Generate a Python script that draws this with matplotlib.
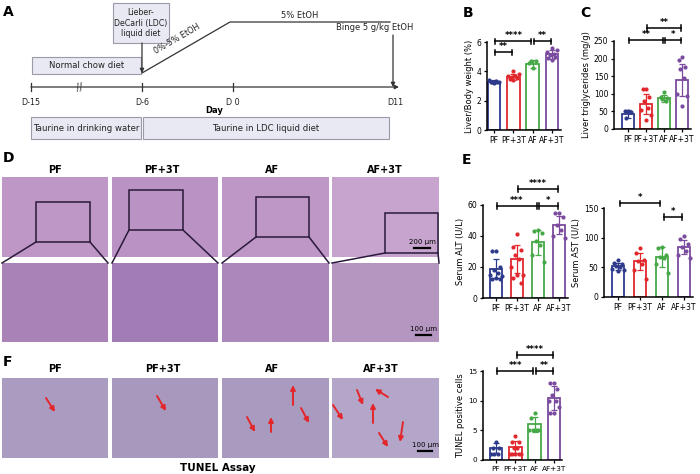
import numpy as np
import matplotlib.pyplot as plt
from matplotlib.patches import Rectangle

W, H = 700, 474

groups = ['PF', 'PF+3T', 'AF', 'AF+3T']
colors = ['#2e3a8c', '#e0282e', '#46a846', '#7a4b9e']

# B: liver / body weight (%)
lbw_mean = [3.3, 3.6, 4.5, 5.15]
lbw_sd = [0.1, 0.2, 0.25, 0.3]
lbw_pts = [[3.2, 3.25, 3.3, 3.3, 3.35, 3.4, 3.3, 3.25],
           [3.4, 3.5, 3.55, 3.6, 3.65, 3.7, 3.8, 4.0],
           [4.2, 4.6, 4.7, 4.7],
           [4.8, 4.9, 5.0, 5.1, 5.2, 5.3, 5.45, 5.6]]

# C: liver triglycerides (mg/g)
tg_mean = [42, 72, 88, 140]
tg_sd = [12, 28, 10, 45]
tg_pts = [[50, 52, 48, 30],
          [115, 115, 90, 80, 60, 55, 40, 25],
          [105, 92, 88, 85, 80],
          [205, 195, 175, 170, 145, 100, 95, 65]]

# E: serum ALT / AST (U/L)
alt_mean = [19, 25, 36, 47]
alt_sd = [6, 9, 8, 6]
alt_pts = [[30, 30, 20, 18, 16, 15, 14, 13, 12, 12],
           [41, 33, 31, 28, 25, 20, 15, 15, 13, 10],
           [44, 43, 42, 37, 34, 28, 23],
           [55, 55, 52, 47, 44, 40, 39]]

ast_mean = [52, 60, 68, 84]
ast_sd = [6, 15, 17, 12]
ast_pts = [[62, 58, 55, 53, 50, 48, 45, 43],
           [82, 75, 62, 60, 55, 45, 30],
           [85, 82, 70, 68, 65, 55, 40],
           [103, 97, 90, 85, 78, 70, 65]]

# F: TUNEL positive cells
tun_mean = [2.0, 2.2, 6.0, 10.5]
tun_sd = [0.8, 1.0, 1.3, 2.0]
tun_pts = [[3, 2, 2, 1, 1, 1],
           [4, 3, 3, 2, 2, 1, 1, 1, 1, 1],
           [8, 7, 5, 5, 5, 5],
           [13, 13, 12, 11, 10, 10, 9, 8, 8]]

# significance brackets: (i, j, y, stars)
lbw_sig = [(0, 1, 5.3, '**'), (0, 2, 6.05, '****'), (2, 3, 6.05, '**')]
tg_sig = [(0, 2, 252, '**'), (1, 3, 287, '**'), (2, 3, 252, '*')]
alt_sig = [(0, 2, 59.5, '***'), (1, 3, 70.5, '****'), (2, 3, 59.5, '*')]
ast_sig = [(0, 2, 158, '*'), (2, 3, 135, '*')]
tun_sig = [(0, 2, 15, '***'), (1, 3, 17.7, '****'), (2, 3, 15, '**')]

fig = plt.figure(figsize=(7, 4.74), dpi=100)
ov = fig.add_axes([0, 0, 1, 1])
ov.set_xlim(0, W)
ov.set_ylim(H, 0)
ov.axis('off')

BOXFC, BOXEC = '#e9e9f3', '#9a9aaa'
INK = '#333333'


def box(x0, x1, y0, y1, text, fs=6.1):
    ov.add_patch(Rectangle((x0, y0), x1 - x0, y1 - y0, fc=BOXFC, ec=BOXEC, lw=0.8))
    ov.text((x0 + x1) / 2, (y0 + y1) / 2, text, ha='center', va='center',
            fontsize=fs, linespacing=1.25, color='#222222')


def arrow(x0, y0, x1, y1, color=INK, lw=0.9, hw=3):
    ov.annotate('', xy=(x1, y1), xytext=(x0, y0),
                arrowprops=dict(arrowstyle='-|>', color=color, lw=lw,
                                mutation_scale=hw * 2, shrinkA=0, shrinkB=0))


# ---- panel A: timeline
ov.text(3, 12, 'A', fontsize=10, fontweight='bold', va='center')
box(113, 169, 3, 43, 'Lieber-\nDeCarli (LDC)\nliquid diet', fs=5.7)
box(32, 141, 57, 74, 'Normal chow diet')
arrow(142, 43, 142, 73)
ov.plot([142, 230, 390], [73, 22, 22], color=INK, lw=0.9)
ov.text(177, 39, '0%-5% EtOH', rotation=30, fontsize=5.8, ha='center', va='center',
        color='#222222')
ov.text(300, 15, '5% EtOH', fontsize=6, ha='center', va='center', color='#222222')
ov.text(375, 27, 'Binge 5 g/kg EtOH', fontsize=6, ha='center', va='center',
        color='#222222')
arrow(393, 35, 393, 87)
arrow(31, 87, 399, 87)
for xt, lab in [(31, 'D-15'), (142, 'D-6'), (233, 'D 0'), (395, 'D11')]:
    if xt < 390:
        ov.plot([xt, xt], [83, 91], color=INK, lw=0.9)
    ov.text(xt, 102, lab, fontsize=5.8, ha='center', va='center', color='#222222')
ov.text(80, 87, '//', fontsize=7, ha='center', va='center', rotation=10, color=INK)
ov.text(214, 110, 'Day', fontsize=6, fontweight='bold', ha='center', va='center')
box(31, 141, 117, 139, 'Taurine in drinking water')
box(143, 389, 117, 139, 'Taurine in LDC liquid diet')

# ---- panel D: H&E
img_x = [(2, 108), (112, 218), (222, 329), (332, 439)]
title_x = [55, 162, 272, 385]
ov.text(3, 158, 'D', fontsize=10, fontweight='bold', va='center')
up_col = ['#bf97c6', '#bb92c4', '#be97c6', '#c7a4cd']
lo_col = ['#a983b8', '#a27cb4', '#ab88bb', '#b596c1']
zoom_box = [(36, 90, 202, 242), (129, 183, 190, 230), (256, 309, 197, 237), (385, 438, 213, 253)]
for k, (x0, x1) in enumerate(img_x):
    ov.text(title_x[k], 170, groups[k], fontsize=7, fontweight='bold', ha='center', va='center')
    ov.add_patch(Rectangle((x0, 177), x1 - x0, 80, fc=up_col[k], ec='none'))
    ov.add_patch(Rectangle((x0, 263), x1 - x0, 79, fc=lo_col[k], ec='none'))
    bx0, bx1, by0, by1 = zoom_box[k]
    ov.add_patch(Rectangle((bx0, by0), bx1 - bx0, by1 - by0, fc='none', ec='#2a1a3a', lw=1.1))
    ov.plot([bx0, x0], [by1, 263], color='#2a1a3a', lw=1.1)
    ov.plot([bx1, x1], [by1, 263], color='#2a1a3a', lw=1.1)
ov.text(422, 242, '200 μm', fontsize=5, ha='center', va='center')
ov.plot([414, 430], [248, 248], color='black', lw=1.6)
ov.text(423, 329, '100 μm', fontsize=5, ha='center', va='center')
ov.plot([416, 431], [335, 335], color='black', lw=1.6)

# ---- panel F: TUNEL images
ov.text(3, 362, 'F', fontsize=10, fontweight='bold', va='center')
f_title_x = [55, 163, 272, 381]
f_col = ['#aa9cc0', '#a898be', '#a99bc0', '#b3a6c8']
for k, (x0, x1) in enumerate(img_x):
    ov.text(f_title_x[k], 369, groups[k], fontsize=7, fontweight='bold', ha='center', va='center')
    ov.add_patch(Rectangle((x0, 378), x1 - x0, 80, fc=f_col[k], ec='none'))
red_arrows = [(46, 398, 55, 412), (157, 396, 166, 411),
              (247, 417, 255, 432), (271, 432, 271, 417), (293, 405, 293, 385),
              (301, 408, 309, 423), (333, 405, 343, 420), (357, 390, 363, 405),
              (388, 397, 375, 389), (373, 423, 373, 403), (403, 422, 400, 442),
              (379, 433, 388, 447)]
for x0, y0, x1, y1 in red_arrows:
    arrow(x0, y0, x1, y1, color='#e3262b', lw=1.4, hw=3.5)
ov.text(425, 445, '100 μm', fontsize=5, ha='center', va='center')
ov.plot([418, 432], [451, 451], color='black', lw=1.6)
ov.text(218, 468, 'TUNEL Assay', fontsize=7.5, fontweight='bold', ha='center', va='center')

# panel letters for the bar charts
ov.text(463, 13, 'B', fontsize=10, fontweight='bold', va='center')
ov.text(580, 13, 'C', fontsize=10, fontweight='bold', va='center')
ov.text(462, 160, 'E', fontsize=10, fontweight='bold', va='center')


def dot_offsets(n):
    # spread the dots across the bar, alternating sides
    base = [0.0, -0.18, 0.18, -0.09, 0.09, -0.27, 0.27]
    return np.array([base[k % len(base)] for k in range(n)])


def bar_panel(ax_px, c0, step, ymax, yticks, means, sds, pts, sig, ylabel, lsize=5.5):
    xa, xr, yt, yb = ax_px
    ax = fig.add_axes([xa / W, 1 - yb / H, (xr - xa) / W, (yb - yt) / H])
    ax.set_xlim((xa - c0) / step, (xr - c0) / step)
    ax.set_ylim(0, ymax)
    pos = np.arange(4)
    bw = 12.5 / step
    ax.bar(pos, means, width=bw, fc='white', ec=colors, lw=1.3, zorder=2)
    for i in range(4):
        ax.errorbar(pos[i], means[i], yerr=sds[i], color=colors[i], lw=0.9,
                    capsize=2.5, capthick=0.9, zorder=3)
        ax.scatter(pos[i] + dot_offsets(len(pts[i])), pts[i], s=9, color=colors[i],
                   zorder=4, lw=0)
    for i, j, y, lab in sig:
        h = ymax * 0.03
        xl, xr2 = i + 0.07, j - 0.07
        ax.plot([xl, xr2], [y, y], color='black', lw=1.1, clip_on=False)
        ax.plot([xl, xl], [y - h, y + h], color='black', lw=1.1, clip_on=False)
        ax.plot([xr2, xr2], [y - h, y + h], color='black', lw=1.1, clip_on=False)
        ax.text((xl + xr2) / 2, y + ymax * 0.01, lab, fontsize=6, ha='center',
                va='bottom', fontweight='bold', clip_on=False)
    for s in ['top', 'right']:
        ax.spines[s].set_visible(False)
    for s in ['left', 'bottom']:
        ax.spines[s].set_linewidth(1.1)
    ax.set_yticks(yticks)
    ax.set_xticks(pos)
    ax.set_xticklabels(groups)
    ax.tick_params(labelsize=lsize, length=2.5, width=0.9, pad=1.5)
    ax.set_ylabel(ylabel, fontsize=6, labelpad=2)
    ax.patch.set_alpha(0)
    return ax


bar_panel((487, 561, 42, 130), 494, 19.3, 6, [0, 2, 4, 6],
          lbw_mean, lbw_sd, lbw_pts, lbw_sig, 'Liver/Body weight (%)')
bar_panel((614, 691, 41, 129), 628, 18, 250, [0, 50, 100, 150, 200, 250],
          tg_mean, tg_sd, tg_pts, tg_sig, 'Liver triglycerides (mg/g)')
bar_panel((483, 568, 205, 298), 496, 21, 60, [0, 20, 40, 60],
          alt_mean, alt_sd, alt_pts, alt_sig, 'Serum ALT (U/L)')
bar_panel((604, 693, 208, 297), 618, 22, 150, [0, 50, 100, 150],
          ast_mean, ast_sd, ast_pts, ast_sig, 'Serum AST (U/L)')
bar_panel((483, 562, 371, 460), 496, 19.3, 15, [0, 5, 10, 15],
          tun_mean, tun_sd, tun_pts, tun_sig, 'TUNEL positive cells', lsize=5.2)

fig.savefig('out.png', dpi=100)
